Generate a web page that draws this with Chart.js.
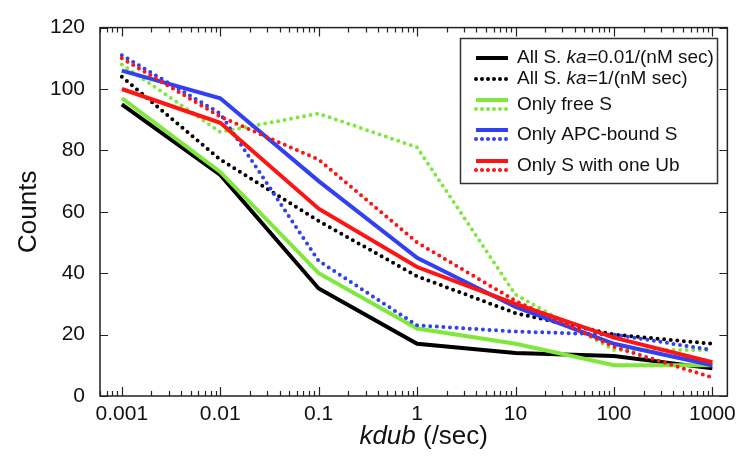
<!DOCTYPE html>
<html>
<head>
<meta charset="utf-8">
<script src="https://cdn.jsdelivr.net/npm/chart.js@4"></script>
<style>
  html, body { margin: 0; padding: 0; background: #fff; }
  #wrap { width: 742px; height: 459px; }
</style>
</head>
<body>
<div id="wrap"><canvas id="chart1" width="742" height="459"></canvas></div>
<script>
// x values (kdub, /sec)
const kdub = [0.001, 0.01, 0.1, 1, 10, 100, 1000];
const kdubLabels = ['0.001', '0.01', '0.1', '1', '10', '100', '1000'];

// counts, solid = slow (ka=0.01), dotted = fast (ka=1)
const allSlow  = [95, 72, 35, 17, 14, 13, 9];
const allFast  = [104, 77, 57, 39, 27, 20, 17];
const freeSlow = [97, 73, 40, 22, 17, 10, 10];
const freeFast = [108, 86, 92, 81, 33, 15, 15];
const apcSlow  = [106, 97, 70, 45, 29, 17, 10];
const apcFast  = [111, 92, 44, 23, 21, 20, 15];
const ubSlow   = [100, 89, 61, 42, 30, 19, 11];
const ubFast   = [110, 91, 77, 50, 31, 16, 6];

const yTicks = [0, 20, 40, 60, 80, 100, 120];

const BLACK = '#000000';
const GREEN = '#80E83C';
const BLUE = '#3140F2';
const RED = '#FF1414';
const FONT = '"Liberation Sans", Arial, Helvetica, sans-serif';

function solid(label, data, color, order) {
  return { label, data: data.map((v, i) => ({ x: kdub[i], y: v })), borderColor: color,
    borderWidth: 4, pointRadius: 0, tension: 0, fill: false, order };
}
function dotted(label, data, color, order) {
  return { label, data: data.map((v, i) => ({ x: kdub[i], y: v })), borderColor: color,
    borderWidth: 4, borderDash: [0, 6.6], borderCapStyle: 'round', pointRadius: 0,
    tension: 0, fill: false, order };
}

// legend rows: text pieces (italic marked) + line samples
const legendRows = [
  { y: 58, text: [['All S. ', false], ['ka', true], ['=0.01/(nM sec)', false]], lines: [[BLACK, false, 0]] },
  { y: 79, text: [['All S. ', false], ['ka', true], ['=1/(nM sec)', false]], lines: [[BLACK, true, 0]] },
  { y: 105, text: [['Only free S', false]], lines: [[GREEN, false, -5], [GREEN, true, 4]] },
  { y: 135, text: [['Only APC-bound S', false]], lines: [[BLUE, false, -5], [BLUE, true, 4]] },
  { y: 166, text: [['Only S with one Ub', false]], lines: [[RED, false, -5], [RED, true, 4]] }
];

const framePlugin = {
  id: 'frame',
  afterDraw(chart) {
    const ctx = chart.ctx;
    const a = chart.chartArea;
    const xs = chart.scales.x;
    const ys = chart.scales.y;
    ctx.save();
    ctx.strokeStyle = '#222';
    ctx.lineWidth = 1.5;
    ctx.setLineDash([]);
    ctx.strokeRect(a.left, a.top, a.right - a.left, a.bottom - a.top);

    // y ticks, inward on both sides
    ctx.lineWidth = 1.2;
    ctx.beginPath();
    yTicks.forEach(v => {
      const py = Math.round(ys.getPixelForValue(v)) + 0.5;
      ctx.moveTo(a.left, py); ctx.lineTo(a.left + 8, py);
      ctx.moveTo(a.right, py); ctx.lineTo(a.right - 8, py);
    });
    // x ticks, log decades with minors
    for (let e = -4; e <= 3; e++) {
      for (let m = 1; m <= 9; m++) {
        const v = m * Math.pow(10, e);
        if (v < xs.min || v > xs.max) continue;
        const px = Math.round(xs.getPixelForValue(v)) + 0.5;
        const len = m === 1 ? 9 : 5;
        ctx.moveTo(px, a.bottom); ctx.lineTo(px, a.bottom - len);
        ctx.moveTo(px, a.top); ctx.lineTo(px, a.top + len);
      }
    }
    ctx.stroke();

    // x axis title with italic kdub
    ctx.fillStyle = '#111';
    ctx.textBaseline = 'middle';
    const f1 = 'italic 26px ' + FONT, f2 = '26px ' + FONT;
    ctx.font = f1; const w1 = ctx.measureText('kdub').width;
    ctx.font = f2; const w2 = ctx.measureText(' (/sec)').width;
    const cx = (a.left + a.right) / 2 + 10;
    let tx = cx - (w1 + w2) / 2;
    ctx.font = f1; ctx.fillText('kdub', tx, 437);
    ctx.font = f2; ctx.fillText(' (/sec)', tx + w1, 437);

    // legend box
    ctx.fillStyle = '#fff';
    ctx.fillRect(460, 38, 257, 145);
    ctx.strokeStyle = '#333';
    ctx.lineWidth = 1.5;
    ctx.strokeRect(460.5, 38.5, 257, 145);
    legendRows.forEach(row => {
      row.lines.forEach(([color, dot, dy]) => {
        ctx.beginPath();
        ctx.strokeStyle = color;
        ctx.lineWidth = 4;
        if (dot) { ctx.setLineDash([0, 6]); ctx.lineCap = 'round'; }
        else { ctx.setLineDash([]); ctx.lineCap = 'butt'; }
        ctx.moveTo(476, row.y + dy); ctx.lineTo(508, row.y + dy);
        ctx.stroke();
      });
      ctx.setLineDash([]);
      let x = 517;
      ctx.fillStyle = '#111';
      row.text.forEach(([t, it]) => {
        ctx.font = (it ? 'italic ' : '') + '19px ' + FONT;
        ctx.fillText(t, x, row.y);
        x += ctx.measureText(t).width;
      });
    });
    ctx.restore();
  }
};

new Chart(document.getElementById('chart1'), {
  type: 'line',
  data: {
    datasets: [
      solid('All S. ka=0.01/(nM sec)', allSlow, BLACK, 8),
      dotted('All S. ka=1/(nM sec)', allFast, BLACK, 7),
      solid('Only free S', freeSlow, GREEN, 6),
      dotted('Only free S (ka=1)', freeFast, GREEN, 5),
      solid('Only APC-bound S', apcSlow, BLUE, 4),
      dotted('Only APC-bound S (ka=1)', apcFast, BLUE, 3),
      dotted('Only S with one Ub (ka=1)', ubFast, RED, 2),
      solid('Only S with one Ub', ubSlow, RED, 1)
    ]
  },
  options: {
    responsive: false,
    animation: false,
    layout: { padding: { top: 22, right: 11, left: 0, bottom: 0 } },
    plugins: { legend: { display: false }, tooltip: { enabled: false } },
    scales: {
      x: {
        type: 'logarithmic',
        min: 0.0006,
        max: 1420,
        afterBuildTicks: scale => { scale.ticks = kdub.map(v => ({ value: v })); },
        afterFit: scale => { scale.height = 63; },
        grid: { display: false, drawTicks: false },
        border: { display: false },
        ticks: {
          autoSkip: false, maxRotation: 0, padding: 6, color: '#111',
          font: { family: FONT, size: 21 },
          callback: (v) => { const i = kdub.indexOf(v); return i >= 0 ? kdubLabels[i] : ''; }
        }
      },
      y: {
        min: 0,
        max: 120,
        afterBuildTicks: scale => { scale.ticks = yTicks.map(v => ({ value: v })); },
        afterFit: scale => { scale.width = 100; },
        grid: { display: false, drawTicks: false },
        border: { display: false },
        ticks: { padding: 15, color: '#111', font: { family: FONT, size: 21 } },
        title: { display: true, text: 'Counts', color: '#111', font: { family: FONT, size: 26 }, padding: { top: 13 } }
      }
    }
  },
  plugins: [framePlugin]
});
</script>
</body>
</html>
